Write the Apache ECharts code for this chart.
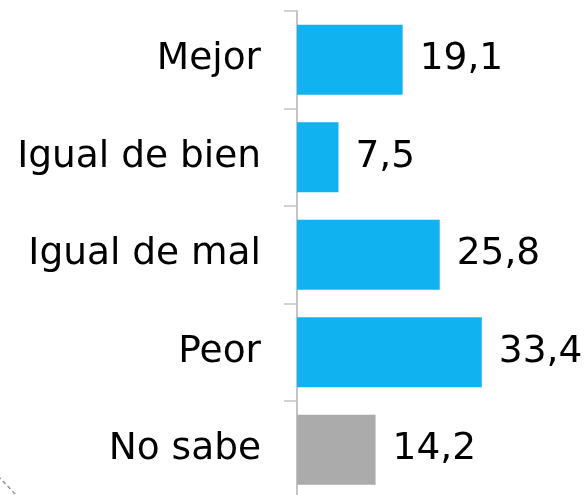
<!DOCTYPE html>
<html>
<head>
<meta charset="utf-8">
<script src="https://cdn.jsdelivr.net/npm/echarts@6/dist/echarts.min.js"></script>
<style>
html,body{margin:0;padding:0;background:#fff;overflow:hidden;width:587px;height:495px;}
#chart{width:587px;height:500px;}
</style>
</head>
<body>
<div id="chart"></div>
<script>
const categories = ["Mejor", "Igual de bien", "Igual de mal", "Peor", "No sabe"];
const values = [19.1, 7.5, 25.8, 33.4, 14.2];
const barColors = ["#10B2F0", "#10B2F0", "#10B2F0", "#10B2F0", "#ABABAB"];

const chart = echarts.init(document.getElementById('chart'), null, {renderer: 'canvas'});
const FONT = '"DejaVu Sans", Verdana, sans-serif';

chart.setOption({
  animation: false,
  backgroundColor: '#ffffff',
  grid: {left: 297, top: 11, right: 0, bottom: 1.5, containLabel: false},
  xAxis: {
    type: 'value', min: 0, max: 52.42,
    show: false
  },
  yAxis: {
    type: 'category',
    data: categories,
    inverse: true,
    axisLine: {show: true, lineStyle: {color: '#c4c4c4', width: 2}},
    axisTick: {show: true, length: 13, lineStyle: {color: '#c4c4c4', width: 1.5}},
    axisLabel: {margin: 36, fontSize: 37.5, color: '#000', fontFamily: FONT},
    splitLine: {show: false}
  },
  series: [{
    type: 'bar',
    data: values.map((v, i) => ({value: v, itemStyle: {color: barColors[i]}})),
    barWidth: '72%',
    label: {
      show: true, position: 'right', distance: 17,
      fontSize: 37.5, color: '#000', fontFamily: FONT,
      formatter: p => String(p.value).replace('.', ',')
    }
  }],
  graphic: [{
    type: 'line',
    shape: {x1: -2, y1: 476, x2: 18, y2: 497},
    style: {stroke: '#999', lineWidth: 1.5, lineDash: [4, 3]}
  }]
});
</script>
</body>
</html>
